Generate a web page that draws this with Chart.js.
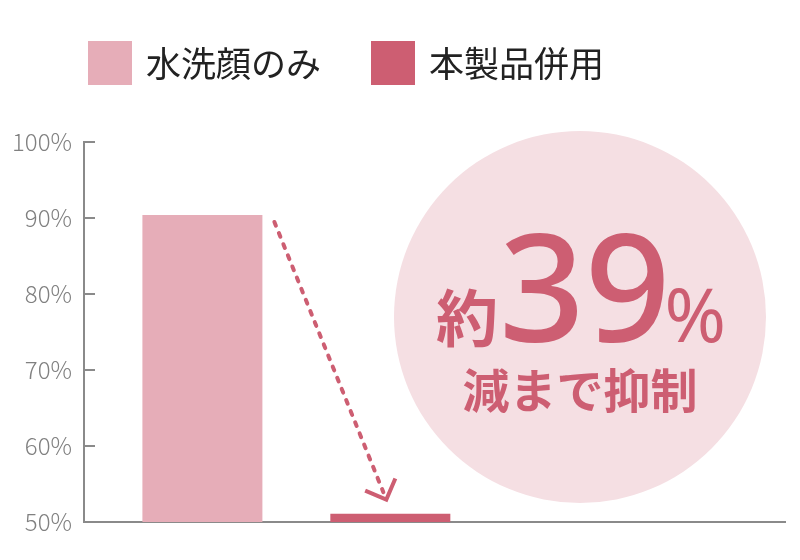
<!DOCTYPE html>
<html>
<head>
<meta charset="utf-8">
<script src="https://cdn.jsdelivr.net/npm/chart.js@4/dist/chart.umd.min.js"></script>
<style>
  html, body { margin: 0; padding: 0; background: #fff; }
  #wrap { width: 800px; height: 560px; }
</style>
</head>
<body>
<div id="wrap"><canvas id="chart" width="800" height="560"></canvas></div>
<script>
// chart data
const categories = ["水洗顔のみ", "本製品併用"];
const values = [90.4, 51.1];
const yTicks = [50, 60, 70, 80, 90, 100];
const calloutTop = ["約", "39", "%"];
const calloutBottom = "減まで抑制";

const barColors = ["#e6adb8", "#cd5e72"];
const accent = "#cd5e72";
const circleFill = "#f5dfe3";
const axisColor = "#8a8a8a";

// legend, inward ticks, bubble and dashed arrow
const decor = {
  id: "decor",
  beforeDatasetsDraw(chart) {
    const { ctx, chartArea } = chart;
    const cx = chartArea.left + 496, cy = 317;
    ctx.save();
    ctx.fillStyle = circleFill;
    ctx.beginPath();
    ctx.arc(cx, cy, 186, 0, Math.PI * 2);
    ctx.fill();
    ctx.restore();
  },
  afterDraw(chart) {
    const { ctx, chartArea, scales } = chart;
    ctx.save();

    // legend row
    ctx.font = '400 35px "Noto Sans CJK JP"';
    ctx.textBaseline = "middle";
    ctx.textAlign = "left";
    let lx = 88;
    chart.data.datasets.forEach((ds) => {
      ctx.fillStyle = ds.backgroundColor;
      ctx.fillRect(lx, 41, 44, 44);
      ctx.fillStyle = "#222";
      ctx.fillText(ds.label, lx + 58, 64);
      lx += 58 + ctx.measureText(ds.label).width + 50;
    });

    // tick marks pointing into the plot
    ctx.strokeStyle = axisColor;
    ctx.lineWidth = 2;
    yTicks.forEach((v) => {
      if (v === scales.y.min) return;
      const y = Math.round(scales.y.getPixelForValue(v));
      ctx.beginPath();
      ctx.moveTo(chartArea.left, y);
      ctx.lineTo(chartArea.left + 11, y);
      ctx.stroke();
    });

    // dashed arrow from bar 1 to bar 2
    const b1 = chart.getDatasetMeta(0).data[0];
    const b2 = chart.getDatasetMeta(1).data[0];
    const sx = b1.x + b1.width / 2 + 12, sy = b1.y + 7;
    const tx = b2.x - 4, ty = b2.y - 14;
    const ang = Math.atan2(ty - sy, tx - sx);
    ctx.strokeStyle = accent;
    ctx.lineWidth = 4;
    ctx.lineCap = "round";
    ctx.setLineDash([4, 8]);
    ctx.beginPath();
    ctx.moveTo(sx, sy);
    ctx.lineTo(tx - Math.cos(ang) * 8, ty - Math.sin(ang) * 8);
    ctx.stroke();
    ctx.setLineDash([]);
    ctx.lineCap = "butt";
    const arm = 23;
    ctx.beginPath();
    ctx.moveTo(tx + Math.cos(ang + Math.PI * 0.75) * arm, ty + Math.sin(ang + Math.PI * 0.75) * arm);
    ctx.lineTo(tx, ty);
    ctx.lineTo(tx + Math.cos(ang + Math.PI * 1.25) * arm, ty + Math.sin(ang + Math.PI * 1.25) * arm);
    ctx.stroke();

    // text in the bubble
    const cx = chartArea.left + 496, cy = 317;
    ctx.fillStyle = accent;
    ctx.textBaseline = "alphabetic";
    ctx.textAlign = "left";
    const base = cy + 25;
    let x = cx - 144;
    ctx.font = '700 62px "Noto Sans CJK JP"';
    ctx.fillText(calloutTop[0], x, base);
    x += ctx.measureText(calloutTop[0]).width + 1;
    ctx.font = '500 150px "Noto Sans"';
    ctx.fillText(calloutTop[1], x, base);
    x += ctx.measureText(calloutTop[1]).width - 6;
    ctx.font = '400 74px "Noto Sans"';
    ctx.fillText(calloutTop[2], x, base);

    ctx.font = '700 47px "Noto Sans CJK JP"';
    ctx.textAlign = "center";
    ctx.textBaseline = "middle";
    ctx.fillText(calloutBottom, cx, cy + 73);
    ctx.restore();
  }
};

const ctx = document.getElementById("chart").getContext("2d");
new Chart(ctx, {
  type: "bar",
  data: {
    datasets: categories.map((name, i) => ({
      label: name,
      data: [{ x: i + 1, y: values[i] }],
      backgroundColor: barColors[i],
      borderWidth: 0,
      grouped: false,
      maxBarThickness: 120
    }))
  },
  options: {
    responsive: false,
    animation: false,
    layout: { padding: { left: 8, right: 15, top: 142, bottom: 38 } },
    plugins: {
      legend: { display: false },
      tooltip: { enabled: false }
    },
    scales: {
      x: {
        type: "linear",
        min: 0.37,
        max: 4.1,
        grid: { display: false },
        border: { display: true, color: axisColor, width: 2 },
        ticks: { display: false },
        afterBuildTicks: (s) => { s.ticks = []; },
        afterFit: (s) => { s.height = 0; }
      },
      y: {
        min: 50,
        max: 100,
        grid: { display: false, drawTicks: false },
        border: { display: true, color: axisColor, width: 2 },
        afterBuildTicks: (s) => { s.ticks = yTicks.map((v) => ({ value: v })); },
        afterFit: (s) => { s.width = 76; },
        ticks: {
          padding: 12,
          color: "#808080",
          font: { family: '"Noto Sans CJK JP"', size: 24, weight: 300 },
          callback: (v) => v + "%"
        }
      }
    }
  },
  plugins: [decor]
});
</script>
</body>
</html>
